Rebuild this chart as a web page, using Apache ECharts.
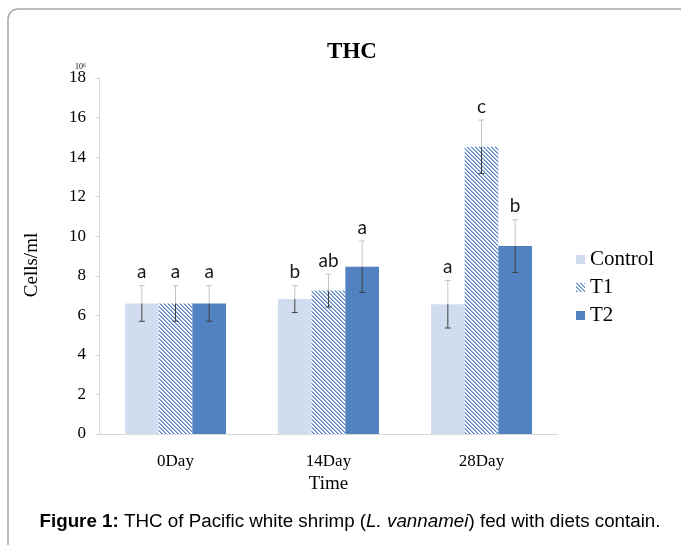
<!DOCTYPE html>
<html>
<head>
<meta charset="utf-8">
<script src="https://cdn.jsdelivr.net/npm/echarts@6/dist/echarts.min.js"></script>
<style>
html,body{margin:0;padding:0;background:#fff;}
#chart{width:681px;height:545px;}
</style>
</head>
<body>
<div id="chart"></div>
<script>
// ---- data ----
const categories = ['0Day', '14Day', '28Day'];
const seriesNames = ['Control', 'T1', 'T2'];
const controlVals = [6.6, 6.82, 6.56];
const t1Vals = [6.6, 7.25, 14.52];
const t2Vals = [6.6, 8.46, 9.5];
const controlErr = [0.9, 0.68, 1.2];
const t1Err = [0.9, 0.83, 1.35];
const t2Err = [0.9, 1.3, 1.33];
const controlSig = ['a', 'b', 'a'];
const t1Sig = ['a', 'ab', 'c'];
const t2Sig = ['a', 'a', 'b'];
const yTicks = { min: 0, max: 18, interval: 2 };

const allVals = [controlVals, t1Vals, t2Vals];
const allErr = [controlErr, t1Err, t2Err];
const allSig = [controlSig, t1Sig, t2Sig];

// ---- patterns ----
function makePattern(kind) {
  const c = document.createElement('canvas');
  c.width = 4; c.height = 4;
  const g = c.getContext('2d');
  if (kind === 'control') {
    g.fillStyle = '#d3dff0'; g.fillRect(0, 0, 4, 4);
    g.fillStyle = '#bfd0e8';
    g.fillRect(0, 0, 1, 1); g.fillRect(2, 2, 1, 1);
  } else if (kind === 't1') {
    g.fillStyle = '#ffffff'; g.fillRect(0, 0, 4, 4);
    for (let i = 0; i < 4; i++) {
      g.fillStyle = '#5a87c6'; g.fillRect(i, i, 1, 1);
      g.fillStyle = '#9ab5dc'; g.fillRect((i + 1) % 4, i, 1, 1);
    }
  } else {
    g.fillStyle = '#4f80bf'; g.fillRect(0, 0, 4, 4);
    g.fillStyle = '#5b8ac7';
    g.fillRect(1, 1, 1, 1); g.fillRect(3, 3, 1, 1);
  }
  return { image: c, repeat: 'repeat' };
}
const fills = [makePattern('control'), makePattern('t1'), makePattern('t2')];

const CAT_GAP = 0.34;
const serif = 'Liberation Serif';

const barSeries = seriesNames.map((n, i) => ({
  name: n,
  type: 'bar',
  data: allVals[i],
  barGap: '0%',
  barCategoryGap: (CAT_GAP * 100) + '%',
  itemStyle: { color: fills[i] },
  emphasis: { disabled: true },
  z: 2
}));

const errData = [];
for (let s = 0; s < 3; s++) {
  for (let c = 0; c < categories.length; c++) {
    errData.push([c, allVals[s][c], allErr[s][c], s]);
  }
}

const errSeries = {
  type: 'custom',
  data: errData,
  encode: { x: 0, y: 1 },
  z: 5,
  silent: true,
  renderItem: function (params, api) {
    const ci = api.value(0), v = api.value(1), e = api.value(2), si = api.value(3);
    const band = api.size([1, 0])[0];
    const bw = band * (1 - CAT_GAP) / 3;
    const cx = api.coord([ci, 0])[0] + (si - 1) * bw;
    const yTop = api.coord([ci, v + e])[1];
    const yBar = api.coord([ci, v])[1];
    const yBot = api.coord([ci, v - e])[1];
    const cap = 3;
    const light = { stroke: '#c4c4c4', lineWidth: 1 };
    const dark = { stroke: '#404040', lineWidth: 1 };
    return {
      type: 'group',
      children: [
        { type: 'line', shape: { x1: cx, y1: yTop, x2: cx, y2: yBar }, style: light },
        { type: 'line', shape: { x1: cx, y1: yBar, x2: cx, y2: yBot }, style: dark },
        { type: 'line', shape: { x1: cx - cap, y1: yTop, x2: cx + cap, y2: yTop }, style: light },
        { type: 'line', shape: { x1: cx - cap, y1: yBot, x2: cx + cap, y2: yBot }, style: dark },
        { type: 'text', x: cx, y: yTop - 4,
          style: { text: allSig[si][ci], fontFamily: 'Lato', fontSize: 19, fill: '#1a1a1a',
                   align: 'center', verticalAlign: 'bottom' } }
      ]
    };
  }
};

const chart = echarts.init(document.getElementById('chart'), null, { renderer: 'canvas' });
chart.setOption({
  animation: false,
  backgroundColor: '#ffffff',
  title: {
    text: 'THC',
    left: 347, top: 36,
    textAlign: 'center',
    textStyle: { fontFamily: serif, fontWeight: 'bold', fontSize: 23, color: '#000' }
  },
  legend: {
    orient: 'vertical',
    left: 571, top: 244,
    itemWidth: 9, itemHeight: 9,
    itemGap: 7,
    icon: 'rect',
    data: seriesNames,
    textStyle: { fontFamily: serif, fontSize: 21, color: '#000', lineHeight: 21 }
  },
  grid: { left: 99, right: 123, top: 78, bottom: 111, containLabel: false },
  xAxis: {
    type: 'category',
    data: categories,
    name: 'Time',
    nameLocation: 'middle',
    nameGap: 34,
    nameTextStyle: { fontFamily: serif, fontSize: 19, color: '#000' },
    axisLine: { lineStyle: { color: '#d9d9d9' } },
    axisTick: { show: false },
    axisLabel: { fontFamily: serif, fontSize: 17, color: '#000', margin: 19 }
  },
  yAxis: {
    type: 'value',
    min: yTicks.min, max: yTicks.max, interval: yTicks.interval,
    name: 'Cells/ml',
    nameLocation: 'middle',
    nameGap: 57,
    nameTextStyle: { fontFamily: serif, fontSize: 19, color: '#000', padding: [0, 18, 0, 0] },
    axisLine: { show: true, lineStyle: { color: '#d9d9d9' } },
    axisTick: { show: true, length: 4, lineStyle: { color: '#d9d9d9' } },
    splitLine: { show: false },
    axisLabel: { fontFamily: serif, fontSize: 17, color: '#000', margin: 13 }
  },
  graphic: [
    { type: 'rect', shape: { x: 8, y: 9, width: 720, height: 600, r: 10 },
      style: { fill: 'none', stroke: '#a8a8a8', lineWidth: 1.5 }, z: -1, silent: true },
    { type: 'text', x: 75, y: 63,
      style: { text: '10⁶', fontFamily: serif, fontSize: 8, fill: '#000' } },
    { type: 'text', x: 350, y: 522,
      style: {
        text: '{b|Figure 1:} THC of Pacific white shrimp ({i|L. vannamei}) fed with diets contain.',
        align: 'center', verticalAlign: 'middle',
        fontFamily: 'Liberation Sans', fontSize: 18.8, fill: '#000',
        rich: {
          b: { fontFamily: 'Liberation Sans', fontWeight: 'bold', fontSize: 18.8, fill: '#000' },
          i: { fontFamily: 'Liberation Sans', fontStyle: 'italic', fontSize: 18.8, fill: '#000' }
        }
      } }
  ],
  series: barSeries.concat([errSeries])
});
</script>
</body>
</html>
